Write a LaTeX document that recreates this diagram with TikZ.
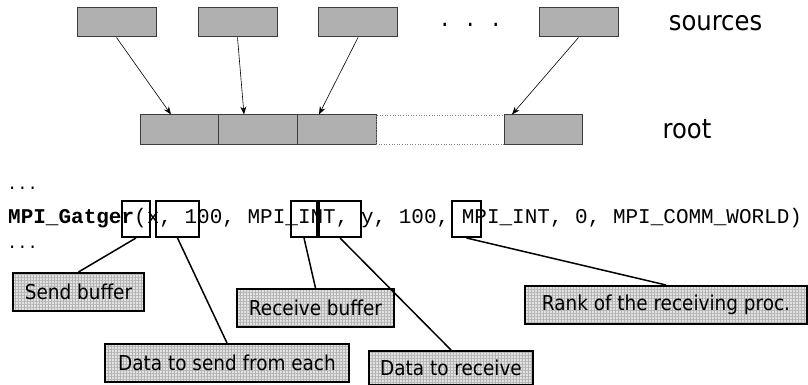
\documentclass[tikz,border=0pt]{standalone}
\usepackage{fontspec}
\setmainfont{DejaVu Sans}
\newfontfamily\lblfont{DejaVu Sans Condensed}
\newfontfamily\codefont{Liberation Mono}
\usetikzlibrary{arrows.meta,patterns.meta}
\definecolor{boxgray}{HTML}{B0B0B0}
\definecolor{boxedge}{HTML}{3C3C3C}
\definecolor{lblbg}{HTML}{E2E2E2}
\definecolor{gridc}{HTML}{B4B4B4}
\tikzset{
  srcbox/.style={draw=boxedge, fill=boxgray, line width=1pt, minimum width=79pt, minimum height=29pt, inner sep=0pt},
  gapbox/.style={draw=gray, dotted, line width=0.6pt, minimum width=128pt, minimum height=29pt, inner sep=0pt},
  feed/.style={line width=0.6pt, -{Stealth[length=8pt,width=6pt]}},
  markbox/.style={draw=black, line width=2pt, inner sep=0pt, minimum height=36pt},
  lbl/.style={draw=black, line width=2pt, anchor=north west, inner sep=0pt, minimum height=38pt,
    font=\lblfont\fontsize{20.5}{24}\selectfont,
    preaction={fill=lblbg},
    preaction={pattern={Lines[distance=3pt,angle=0,line width=0.4pt]}, pattern color=gridc},
    preaction={pattern={Lines[distance=3pt,angle=90,line width=0.4pt]}, pattern color=gridc}},
  callout/.style={line width=1.5pt},
  bigtext/.style={font=\lblfont\fontsize{27}{30}\selectfont, inner sep=0pt},
  codetext/.style={font=\codefont\fontsize{21}{24}\selectfont, inner sep=0pt, anchor=base west},
  dottext/.style={font=\codefont\fontsize{17}{20}\selectfont, inner sep=0pt, anchor=base west},
}
\begin{document}
\begin{tikzpicture}[x=1pt,y=-1pt]
\useasboundingbox (0,0) rectangle (808,385);
% sources
\node[srcbox] (s1) at (116.5,22.5) {};
\node[srcbox] (s2) at (237.5,22.5) {};
\node[srcbox] (s3) at (358,22.5) {};
\node[srcbox] (s4) at (578.5,22.5) {};
\node[font=\lblfont\fontsize{26}{30}\selectfont, inner sep=0pt, anchor=base west] (dots) at (441,27) {.\hspace{18pt}.\hspace{18pt}.};
\node[bigtext] (srclbl) at (715.5,23) {sources};
% root
\node[srcbox] (r1) at (180,129.5) {};
\node[srcbox] (r2) at (258,129.5) {};
\node[srcbox] (r3) at (336.5,129.5) {};
\node[gapbox] (gap) at (440,129.5) {};
\node[srcbox, minimum width=78pt] (r5) at (543,129.5) {};
\node[bigtext] (rootlbl) at (687,129) {root};
% arrows
\draw[feed] (s1.south) -- ([xshift=-9pt]r1.north);
\draw[feed] (s2.south) -- ([xshift=-14pt]r2.north);
\draw[feed] (s3.south) -- ([xshift=-17.5pt]r3.north);
\draw[feed] (s4.south) -- ([xshift=-31pt]r5.north);
% code
\node[dottext] (d1) at (7,189) {...};
\node[codetext] (code) at (8,223) {\textbf{MPI\_Gatger}(x, 100, MPI\_INT, y, 100, MPI\_INT, 0, MPI\_COMM\_WORLD)};
\node[dottext] (d2) at (7,248) {...};
\node[markbox, minimum width=28pt] (A) at (136,219) {};
\node[markbox, minimum width=43pt] (B) at (177.5,219) {};
\node[markbox, minimum width=26pt] (C) at (304,219) {};
\node[markbox, minimum width=42pt] (D) at (340,219) {};
\node[markbox, minimum width=29pt] (E) at (466.5,219) {};
% labels
\node[lbl, minimum width=131pt] (sb) at (12,272) {Send buffer};
\node[lbl, minimum width=157pt] (rb) at (236,288) {Receive buffer};
\node[lbl, minimum width=244pt] (ds) at (104,343) {Data to send from each};
\node[lbl, minimum width=164pt, minimum height=34pt] (dr) at (368,350) {Data to receive};
\node[lbl, minimum width=282pt] (rk) at (524,285) {Rank of the receiving proc.};
% callouts
\draw[callout] (A.south) -- (sb.north);
\draw[callout] (B.south) -- (ds.north);
\draw[callout] (C.south) -- (rb.north);
\draw[callout] (D.south) -- (dr.north);
\draw[callout] (E.south) -- (rk.north);
\end{tikzpicture}
\end{document}
